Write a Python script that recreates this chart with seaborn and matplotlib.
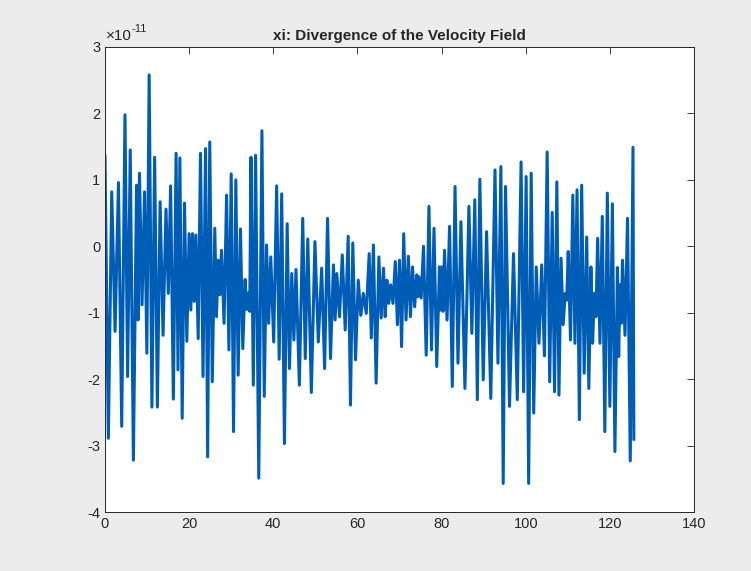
import numpy as np
import pandas as pd
import matplotlib
matplotlib.use('Agg')
import matplotlib.pyplot as plt
import seaborn as sns
from matplotlib.ticker import FuncFormatter

# Ausschläge des Signals (Einheit 1e-11)
pair_x = [0.0, 1.6, 3.2, 4.75, 6.0, 7.5, 8.2, 9.4, 10.5, 11.8, 13.1, 14.5, 15.6, 16.9, 17.8, 18.9,
          20.0, 20.8, 21.6, 22.7, 23.9, 24.9,
          26.1, 26.9, 27.7, 28.9, 30.0, 31.1, 32.2, 33.3, 34.1, 34.7, 35.8, 37.3, 38.4, 39.4, 40.8,
          42.0, 43.3, 44.4, 45.4, 47.0, 48.2,
          49.9, 51.5, 52.9, 54.3, 55.1, 56.4, 57.8, 58.9, 60.2, 61.4, 62.8, 63.8, 65.1, 66.2, 67.0,
          67.9, 69.0, 70.0, 71.0, 72.1,
          73.1, 74.1, 74.6, 75.7, 77.0, 78.2, 79.5, 80.0, 80.7, 81.9, 83.2, 84.6, 86.5, 87.9, 89.1,
          90.7, 92.7, 94.1, 95.2,
          97.1, 98.9, 100.1, 101.3, 102.5, 103.8, 105.1, 106.3, 107.4, 108.4, 109.4, 110.1, 111.2,
          112.2, 113.3, 114.5, 115.5, 116.3, 117.1,
          118.2, 119.4, 120.6, 121.8, 122.4, 123.0, 124.2, 125.5]

peak_hi = [1.375, 0.82, 0.96, 1.98, 1.45, 0.92, 1.10, 0.82, 2.58, 1.34, 0.67, 0.56, 0.91, 1.40, 1.33, 0.65,
           0.19, 0.19, 0.17, 1.40, 1.47, 1.57,
           0.27, -0.21, -0.06, 0.77, 1.09, 1.00, 0.26, -0.5, -0.70, 1.34, 1.37, 1.74, 0.02, -0.16, 0.91,
           0.79, 0.34, -0.41, -0.35, 0.42, 0.11,
           0.07, -0.33, 0.42, -0.28, -0.41, -0.13, 0.15, 0.05, -0.51, -0.71, -0.11, 0.02, -0.16, -0.33, -0.51,
           -0.58, -0.23, -0.21, 0.19, -0.15,
           -0.31, -0.43, -0.46, 0.0, 0.60, 0.27, -0.31, -0.31, -0.06, 0.30, 0.90, 0.37, 0.60, 0.70, 1.01,
           0.22, 1.15, 1.2, 0.9,
           -0.11, 1.27, 1.05, 1.10, -0.31, -0.28, 1.42, 0.51, 0.97, -0.18, -0.71, -0.08, 0.77,
           0.85, 0.92, 0.14, -0.31, -0.71, 0.12,
           0.45, 0.80, 0.64, -0.32, -0.58, -0.21, 0.42, 1.49]

peak_lo = [-2.89, -1.28, -2.71, -1.96, -3.22, -1.11, -0.88, -1.61, -2.42, -2.42, -1.34, -0.71, -2.30, -1.86,
           -2.59, -1.43, -0.96, -0.83, -1.39, -1.96, -3.17, -2.04,
           -1.06, -0.73, -1.16, -1.56, -2.79, -1.94, -1.54, -0.95, -0.98, -2.09, -3.49, -2.26, -1.16, -1.44,
           -1.70, -2.97, -1.84, -1.41, -2.09, -1.69, -2.2,
           -1.44, -1.84, -1.69, -1.11, -1.06, -1.26, -2.39, -1.71, -1.04, -1.01, -1.38, -2.06, -1.08, -1.06,
           -0.86, -0.86, -1.18, -1.51, -1.11, -1.06,
           -0.91, -0.76, -0.78, -1.64, -1.56, -1.81, -0.96, -0.98, -1.11, -2.11, -1.76, -2.14, -1.31, -2.31,
           -2.01, -2.29, -1.76, -3.57, -2.41,
           -2.31, -2.19, -3.57, -2.51, -1.46, -1.65, -2.04, -2.19, -2.24, -1.18, -0.81, -1.41, -1.46, -2.61,
           -1.91, -2.14, -1.46, -1.06, -1.46,
           -2.79, -2.41, -3.09, -1.66, -1.16, -1.34, -3.23, -2.91]

x_ticks = [0, 20, 40, 60, 80, 100, 120, 140]
y_ticks = [-4, -3, -2, -1, 0, 1, 2, 3]
scale = 1e-11


# Zickzack aus Hoch- und Tiefpunkten bauen
def build_series():
    xs, ys = [], []
    for i, x in enumerate(pair_x):
        nxt = pair_x[i + 1] if i + 1 < len(pair_x) else x + 0.4
        xs += [x, (x + nxt) / 2]
        ys += [peak_hi[i] * scale, peak_lo[i] * scale]
    return pd.DataFrame({'x': xs, 'xi': ys})


def main():
    sns.set_style('white')
    plt.rcParams['font.family'] = ['Liberation Sans', 'DejaVu Sans']
    plt.rcParams['axes.unicode_minus'] = False

    df = build_series()

    fig = plt.figure(figsize=(7.51, 5.71), dpi=100, facecolor='#ececec')
    ax = fig.add_axes([0.1398, 0.1033, 0.7843, 0.8144])
    ax.set_facecolor('white')
    sns.lineplot(data=df, x='x', y='xi', ax=ax, color='#005db5', linewidth=2.2,
                 estimator=None, sort=False)

    ax.set_xlim(0, 140)
    ax.set_ylim(-4 * scale, 3 * scale)
    ax.set_xticks(x_ticks)
    ax.set_yticks([v * scale for v in y_ticks])
    ax.yaxis.set_major_formatter(FuncFormatter(lambda v, pos: f'{round(v / scale):d}'))

    # Exponent wie bei MATLAB über der y-Achse
    ax.annotate('\u00d710', xy=(0, 1), xycoords='axes fraction', xytext=(1, 3),
                textcoords='offset points', fontsize=11, color='#262626', ha='left', va='bottom')
    ax.annotate('-11', xy=(0, 1), xycoords='axes fraction', xytext=(19, 9),
                textcoords='offset points', fontsize=8, color='#262626', ha='left', va='bottom')

    ax.tick_params(direction='in', top=True, right=True, length=5, width=0.6,
                   color='#262626', labelsize=10.5, labelcolor='#262626')
    for sp in ax.spines.values():
        sp.set_color('#262626')
        sp.set_linewidth(0.7)

    ax.set_xlabel('')
    ax.set_ylabel('')
    ax.set_title('xi: Divergence of the Velocity Field', fontweight='bold', fontsize=11, pad=5)

    fig.savefig('out.png', dpi=100, facecolor=fig.get_facecolor())


if __name__ == '__main__':
    main()
